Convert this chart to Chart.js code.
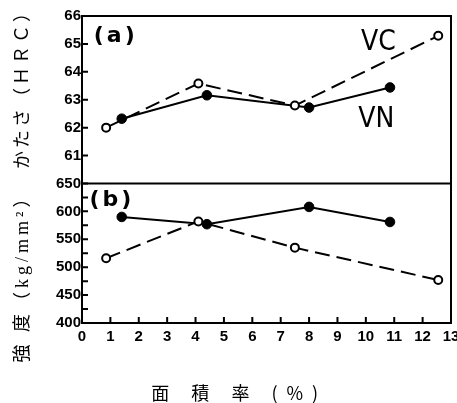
<!DOCTYPE html>
<html>
<head>
<meta charset="utf-8">
<script src="https://cdn.jsdelivr.net/npm/chart.js@4.4.1/dist/chart.umd.min.js"></script>
<style>
  html, body { margin: 0; padding: 0; background: #fff; }
  #wrap { position: relative; width: 457px; height: 403px; }
</style>
</head>
<body>
<div id="wrap"><canvas id="chart"></canvas></div>
<script>
// 面積率 (%)
const vcArea = [0.85, 4.1, 7.5, 12.55];
const vnArea = [1.4, 4.4, 8.0, 10.85];

// (a) かたさ (HRC)
const vcHardness = [62.0, 63.58, 62.79, 65.29];
const vnHardness = [62.32, 63.16, 62.72, 63.44];

// (b) 強度 (kg/mm²)
const vcStrength = [516, 582, 535, 477];
const vnStrength = [590, 577, 608, 581];

// labelled ticks
const hardnessTicks = [61, 62, 63, 64, 65, 66];
const strengthTicks = [400, 450, 500, 550, 600, 650];

const tickFont = { family: "'Liberation Sans', Arial, sans-serif", size: 15, weight: 'bold' };

function pairs(xs, ys) {
    return xs.map((x, i) => ({ x, y: ys[i] }));
}

function vcSet(label, data, axis) {
    return {
        label, data, yAxisID: axis,
        showLine: true,
        borderColor: '#000',
        borderWidth: 2,
        borderDash: [15, 7],
        pointRadius: 4,
        pointBorderWidth: 2,
        pointBorderColor: '#000',
        pointBackgroundColor: '#fff',
    };
}

function vnSet(label, data, axis) {
    return {
        label, data, yAxisID: axis,
        showLine: true,
        borderColor: '#000',
        borderWidth: 2,
        pointRadius: 4.8,
        pointBorderWidth: 1,
        pointBorderColor: '#000',
        pointBackgroundColor: '#000',
    };
}

// frame, inward tick marks and the texts
const panelFrame = {
    id: 'panelFrame',
    beforeDatasetsDraw(chart) {
        const { ctx, chartArea: a, scales } = chart;
        ctx.save();
        ctx.strokeStyle = '#000';
        ctx.lineWidth = 2;
        ctx.strokeRect(a.left, a.top, a.right - a.left, a.bottom - a.top);
        const split = scales.yB.getPixelForValue(650);
        ctx.beginPath();
        ctx.moveTo(a.left, split);
        ctx.lineTo(a.right, split);
        ctx.stroke();

        ctx.lineWidth = 2;
        ctx.beginPath();
        ['yA', 'yB'].forEach(id => {
            scales[id].ticks.forEach(t => {
                const y = scales[id].getPixelForValue(t.value);
                ctx.moveTo(a.left, y);
                ctx.lineTo(a.left + 6, y);
            });
        });
        scales.x.ticks.forEach(t => {
            const x = scales.x.getPixelForValue(t.value);
            ctx.moveTo(x, a.bottom);
            ctx.lineTo(x, a.bottom - 6);
        });
        ctx.stroke();
        ctx.restore();
    },
    afterDraw(chart) {
        const { ctx, chartArea: a, scales } = chart;
        const { x, yA, yB } = scales;
        ctx.save();
        ctx.fillStyle = '#000';
        ctx.textAlign = 'center';
        ctx.textBaseline = 'middle';

        ctx.font = "bold 22px 'DejaVu Sans', sans-serif";
        ctx.letterSpacing = '3px';
        ctx.fillText('(a)', x.getPixelForValue(1.19), yA.getPixelForValue(65.28));
        ctx.fillText('(b)', x.getPixelForValue(1.05), yB.getPixelForValue(620));

        ctx.letterSpacing = '0px';
        ctx.font = "28px 'DejaVu Sans Condensed', 'DejaVu Sans', sans-serif";
        ctx.fillText('VC', x.getPixelForValue(10.44), yA.getPixelForValue(65.06));
        ctx.fillText('VN', x.getPixelForValue(10.37), yA.getPixelForValue(62.3));

        // y titles
        ctx.font = "18px 'Liberation Serif', 'Noto Sans CJK JP', serif";
        ctx.letterSpacing = '3px';
        ctx.save();
        ctx.translate(a.left - 59, a.top + 69);
        ctx.rotate(-Math.PI / 2);
        ctx.fillText('かたさ（ＨＲＣ）', 0, 0);
        ctx.restore();
        ctx.letterSpacing = '4px';
        ctx.save();
        ctx.translate(a.left - 59, a.top + 258);
        ctx.rotate(-Math.PI / 2);
        ctx.fillText('強 度（kg/mm²）', 0, 0);
        ctx.restore();

        // x title
        ctx.font = "18px 'Noto Sans CJK JP', sans-serif";
        ctx.letterSpacing = '9px';
        ctx.fillText('面 積 率 (%)', x.getPixelForValue(5.54), a.bottom + 70);
        ctx.restore();
    }
};

new Chart(document.getElementById('chart'), {
    type: 'scatter',
    data: {
        datasets: [
            vcSet('VC', pairs(vcArea, vcHardness), 'yA'),
            vnSet('VN', pairs(vnArea, vnHardness), 'yA'),
            vcSet('VC', pairs(vcArea, vcStrength), 'yB'),
            vnSet('VN', pairs(vnArea, vnStrength), 'yB'),
        ]
    },
    options: {
        responsive: true,
        maintainAspectRatio: false,
        animation: false,
        layout: { padding: { top: 16, right: 4, left: 0, bottom: 0 } },
        plugins: {
            legend: { display: false },
            tooltip: { enabled: false },
        },
        scales: {
            x: {
                type: 'linear',
                min: 0,
                max: 13,
                ticks: { stepSize: 1, font: tickFont, color: '#000', padding: 5, maxRotation: 0, autoSkip: false },
                grid: { display: false, drawTicks: false },
                border: { display: false },
                afterFit(s) { s.height = 80; s.paddingLeft = 0; s.paddingRight = 0; },
            },
            // bottom panel first: the stack is laid out from the bottom up
            yB: {
                type: 'linear',
                position: 'left',
                stack: 'panels',
                stackWeight: 5,
                min: 400,
                max: 650,
                ticks: {
                    stepSize: 25,
                    autoSkip: false,
                    font: tickFont,
                    color: '#000',
                    padding: 1,
                    callback: v => strengthTicks.includes(v) ? String(v) : '',
                },
                grid: { display: false, drawTicks: false },
                border: { display: false },
                afterFit(s) { s.width = 82; s.paddingTop = 0; s.paddingBottom = 0; },
            },
            yA: {
                type: 'linear',
                position: 'left',
                stack: 'panels',
                stackWeight: 6,
                min: 60,
                max: 66,
                ticks: {
                    stepSize: 1,
                    autoSkip: false,
                    font: tickFont,
                    color: '#000',
                    padding: 1,
                    callback: v => hardnessTicks.includes(v) ? String(v) : '',
                },
                grid: { display: false, drawTicks: false },
                border: { display: false },
                afterFit(s) { s.width = 82; s.paddingTop = 0; s.paddingBottom = 0; },
            },
        },
    },
    plugins: [panelFrame],
});
</script>
</body>
</html>
